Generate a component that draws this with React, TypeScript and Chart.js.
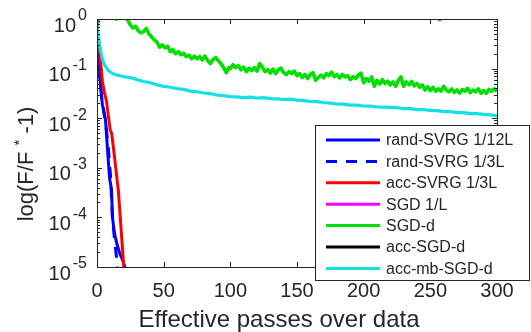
import React, { useEffect, useRef } from 'react';
import { Chart, registerables } from 'chart.js';

Chart.register(...registerables);

// ---------- axis text ----------
const xTickValues = [0, 50, 100, 150, 200, 250, 300];
const yDecadeValues = [1, 0.1, 0.01, 0.001, 0.0001, 0.00001];
const yDecadeExponents = ['0', '-1', '-2', '-3', '-4', '-5'];
const xTitle = 'Effective passes over data';

// ---------- series ----------
const svrg12X = [0, 2, 4, 6.4, 7.9, 9.4, 10.9, 11.6, 13, 14.6, 17, 19.5, 21.5];
const svrg12Y = [0.263, 0.0708, 0.0191, 0.00912, 0.00229, 0.00063, 0.000355, 0.0001, 0.00005, 0.0000316, 0.000019, 0.0000132, 0.0000089];

const svrg3X = [0, 2, 4, 6, 7.1, 8.5, 10.1, 10.8, 11.6, 13, 14.6, 15.3];
const svrg3Y = [0.263, 0.0708, 0.02, 0.01, 0.00575, 0.00251, 0.00071, 0.00028, 0.0001, 0.0000398, 0.0000158, 0.0000089];

const accSvrgX = [0, 1.9, 4.1, 5.6, 7.1, 8.5, 10, 11, 13, 16, 18, 20.2];
const accSvrgY = [0.355, 0.234, 0.0537, 0.0324, 0.0224, 0.0112, 0.00562, 0.00501, 0.00178, 0.000355, 0.000063, 0.0000089];

const sgdX = [0, 250, 255, 257, 259, 264, 300];
const sgdY = [8, 6, 2, 0.95, 2, 6, 8];

const sgdDX = [
  0, 1, 2, 4, 7, 10, 13, 14.5, 16, 19, 21,
  23, 25, 27, 29, 31, 33, 35, 37, 39, 41, 43, 45, 47, 49, 51, 53, 55, 57, 59, 61, 63, 65, 67, 69, 71, 73, 75, 77, 79, 81, 83, 85, 87, 89, 91, 93, 95, 97, 99,
  100, 102, 104, 106, 108, 110, 112, 114, 116, 118, 120, 122, 124, 126, 128, 130, 132, 134, 136, 138, 140, 142, 144, 146, 148, 150,
  152, 154, 156, 158, 160, 162, 164, 166, 168, 170, 172, 174, 176, 178, 180, 182, 184, 186, 188, 190, 192, 194, 196, 198, 200,
  202, 204, 206, 208, 210, 212, 214, 216, 218, 220, 222, 224, 226, 228, 230, 232, 234, 236, 238, 240, 242, 244, 246, 248, 250,
  252, 254, 256, 258, 260, 262, 264, 266, 268, 270, 272, 274, 276, 278, 280, 282, 284, 286, 288, 290, 292, 294, 296, 298, 300,
];
const sgdDY = [
  0.70, 0.98, 1.4, 1.7, 1.5, 1.3, 1.05, 0.99, 1.1, 1.2, 1.05,
  0.97, 0.76, 0.66, 0.71, 0.575, 0.525, 0.56, 0.645, 0.50, 0.435, 0.38, 0.34, 0.27, 0.30, 0.263, 0.28, 0.219, 0.24, 0.20, 0.219, 0.19, 0.204, 0.174, 0.186, 0.158, 0.178, 0.158, 0.174, 0.151, 0.178, 0.145, 0.126, 0.151, 0.166, 0.145, 0.126, 0.105, 0.083, 0.105,
  0.100, 0.120, 0.105, 0.115, 0.095, 0.107, 0.087, 0.102, 0.091, 0.105, 0.089, 0.126, 0.107, 0.087, 0.095, 0.081, 0.098, 0.079, 0.095, 0.102, 0.083, 0.076, 0.087, 0.079, 0.089, 0.072,
  0.079, 0.066, 0.076, 0.063, 0.076, 0.083, 0.058, 0.066, 0.074, 0.065, 0.079, 0.072, 0.085, 0.069, 0.076, 0.065, 0.076, 0.068, 0.072, 0.060, 0.069, 0.063, 0.074, 0.081, 0.052,
  0.063, 0.056, 0.068, 0.044, 0.058, 0.049, 0.060, 0.050, 0.056, 0.047, 0.054, 0.044, 0.058, 0.068, 0.044, 0.054, 0.047, 0.055, 0.045, 0.050, 0.042, 0.047, 0.037, 0.043, 0.036,
  0.042, 0.035, 0.039, 0.035, 0.044, 0.037, 0.034, 0.039, 0.033, 0.037, 0.032, 0.038, 0.035, 0.040, 0.033, 0.037, 0.034, 0.039, 0.032, 0.036, 0.032, 0.038, 0.035, 0.039, 0.035,
];

const accSgdX = [0, 300];
const accSgdY = [3, 3];

const accMbX = [0, 1, 2, 3, 4, 5, 6, 8, 10, 12, 15, 18, 21, 25, 30, 35, 40, 45, 50, 55, 60, 65, 70, 75, 80, 85, 90, 95, 100, 105, 110, 115, 120, 125, 130, 135, 140, 145, 150, 155, 160, 165, 170, 175, 180, 185, 190, 195, 200, 205, 210, 215, 220, 225, 230, 235, 240, 245, 250, 255, 260, 265, 270, 275, 280, 285, 290, 295, 300];
const accMbY = [0.71, 0.47, 0.30, 0.21, 0.158, 0.132, 0.115, 0.095, 0.085, 0.079, 0.074, 0.071, 0.068, 0.066, 0.060, 0.055, 0.052, 0.047, 0.0437, 0.0420, 0.0396, 0.0382, 0.0352, 0.0342, 0.0322, 0.0312, 0.0293, 0.0285, 0.0272, 0.0270, 0.0261, 0.0267, 0.0255, 0.0260, 0.0249, 0.0246, 0.0238, 0.0243, 0.0232, 0.0226, 0.0217, 0.0216, 0.0207, 0.0202, 0.0193, 0.0192, 0.0184, 0.0184, 0.0176, 0.0175, 0.0168, 0.0167, 0.0165, 0.0163, 0.0156, 0.0156, 0.0149, 0.0149, 0.0143, 0.0142, 0.0136, 0.0136, 0.0130, 0.0130, 0.0124, 0.0124, 0.0119, 0.0117, 0.0112];

const seriesLabels = ['rand-SVRG 1/12L', 'rand-SVRG 1/3L', 'acc-SVRG 1/3L', 'SGD 1/L', 'SGD-d', 'acc-SGD-d', 'acc-mb-SGD-d'];
const seriesColors = ['#0000ff', '#0000ff', '#ff0000', '#ff00ff', '#00e000', '#000000', '#14e1e6'];
const seriesWidths = [3, 3, 3, 3, 3.6, 3, 3.2];

const AXIS = '#262626';
const FONT = '"Liberation Sans", Arial, Helvetica, sans-serif';

function pts(xs: number[], ys: number[]) {
  return xs.map((x, i) => ({ x, y: ys[i] }));
}

const overlay = {
  id: 'overlay',
  afterDraw(chart: any) {
    const { ctx, chartArea: a, scales } = chart;
    const xs = scales.x;
    const ys = scales.y;
    ctx.save();
    ctx.strokeStyle = AXIS;
    ctx.fillStyle = AXIS;
    ctx.lineWidth = 1;
    // box
    ctx.strokeRect(a.left + 0.5, a.top + 0.5, a.right - a.left, a.bottom - a.top);
    // x ticks
    ctx.beginPath();
    xTickValues.forEach((v) => {
      const px = Math.round(xs.getPixelForValue(v)) + 0.5;
      ctx.moveTo(px, a.bottom);
      ctx.lineTo(px, a.bottom - 5);
      ctx.moveTo(px, a.top);
      ctx.lineTo(px, a.top + 5);
    });
    // y ticks major + minor
    yDecadeValues.forEach((v, i) => {
      const py = Math.round(ys.getPixelForValue(v)) + 0.5;
      ctx.moveTo(a.left, py);
      ctx.lineTo(a.left + 5, py);
      ctx.moveTo(a.right, py);
      ctx.lineTo(a.right - 5, py);
      if (i > 0) {
        for (let m = 2; m <= 9; m++) {
          const my = Math.round(ys.getPixelForValue(v * m)) + 0.5;
          ctx.moveTo(a.left, my);
          ctx.lineTo(a.left + 3, my);
          ctx.moveTo(a.right, my);
          ctx.lineTo(a.right - 3, my);
        }
      }
    });
    ctx.stroke();

    // x tick labels
    ctx.font = `20px ${FONT}`;
    ctx.textAlign = 'center';
    ctx.textBaseline = 'alphabetic';
    xTickValues.forEach((v) => {
      ctx.fillText(String(v), xs.getPixelForValue(v), a.bottom + 30);
    });

    // y tick labels 10^k
    const rightX = a.left - 10;
    yDecadeValues.forEach((v, i) => {
      const py = ys.getPixelForValue(v);
      ctx.font = `16px ${FONT}`;
      ctx.textAlign = 'right';
      ctx.textBaseline = 'middle';
      const exp = yDecadeExponents[i];
      const ew = ctx.measureText(exp).width;
      ctx.fillText(exp, rightX, py - 3);
      ctx.font = `20px ${FONT}`;
      ctx.fillText('10', rightX - ew - 2, py + 7);
    });

    // x title
    ctx.font = `24px ${FONT}`;
    ctx.textAlign = 'center';
    ctx.textBaseline = 'alphabetic';
    ctx.fillText(xTitle, 279, a.bottom + 60);

    // y title rotated
    ctx.save();
    ctx.translate(33, (a.top + a.bottom) / 2 + 21);
    ctx.rotate(-Math.PI / 2);
    const parts = [
      { t: 'log(F/F ', s: 22, dy: 0 },
      { t: '*', s: 15, dy: -9 },
      { t: ' -1)', s: 22, dy: 0 },
    ];
    let total = 0;
    parts.forEach((p) => {
      ctx.font = `${p.s}px ${FONT}`;
      total += ctx.measureText(p.t).width;
    });
    let cx = -total / 2;
    ctx.textAlign = 'left';
    ctx.textBaseline = 'alphabetic';
    parts.forEach((p) => {
      ctx.font = `${p.s}px ${FONT}`;
      ctx.fillText(p.t, cx, p.dy);
      cx += ctx.measureText(p.t).width;
    });
    ctx.restore();

    // legend
    const lx = 315.5, ly = 125.5, lw = 214, lh = 155;
    ctx.fillStyle = '#ffffff';
    ctx.fillRect(lx, ly, lw, lh);
    ctx.strokeStyle = AXIS;
    ctx.strokeRect(lx, ly, lw, lh);
    chart.data.datasets.forEach((ds: any, i: number) => {
      const ry = 140 + i * 21.4;
      ctx.save();
      ctx.strokeStyle = ds.borderColor;
      ctx.lineWidth = 3;
      ctx.setLineDash(ds.borderDash || []);
      ctx.beginPath();
      ctx.moveTo(326, ry);
      ctx.lineTo(380, ry);
      ctx.stroke();
      ctx.restore();
      ctx.fillStyle = AXIS;
      ctx.font = `16px ${FONT}`;
      ctx.textAlign = 'left';
      ctx.textBaseline = 'middle';
      ctx.fillText(ds.label, 386, ry + 1);
    });
    ctx.restore();
  },
};

export default function App() {
  const ref = useRef<HTMLCanvasElement | null>(null);
  useEffect(() => {
    if (!ref.current) return;
    const xsArr = [svrg12X, svrg3X, accSvrgX, sgdX, sgdDX, accSgdX, accMbX];
    const ysArr = [svrg12Y, svrg3Y, accSvrgY, sgdY, sgdDY, accSgdY, accMbY];
    const order = [4, 6, 3, 5, 2, 1, 0];
    const datasets = seriesLabels.map((label, i) => ({
      label,
      data: pts(xsArr[i], ysArr[i]),
      borderColor: seriesColors[i],
      backgroundColor: seriesColors[i],
      borderWidth: seriesWidths[i],
      borderDash: i === 1 ? [11, 9] : [],
      pointRadius: 0,
      fill: false,
      tension: 0,
      clip: 0,
      order: order[i],
      borderJoinStyle: 'round' as const,
    }));
    const chart = new Chart(ref.current, {
      type: 'line',
      data: { datasets },
      options: {
        responsive: false,
        animation: false,
        layout: { padding: { left: 97, top: 19, right: 34, bottom: 65 } },
        plugins: { legend: { display: false }, tooltip: { enabled: false } },
        scales: {
          x: { type: 'linear', min: 0, max: 300, display: false },
          y: { type: 'logarithmic', min: 0.00001, max: 1, display: false },
        },
      },
      plugins: [overlay],
    });
    return () => chart.destroy();
  }, []);
  return (
    <div style={{ position: 'absolute', left: 0, top: 0, width: 531, height: 332, background: '#fff' }}>
      <canvas ref={ref} width={531} height={332} />
    </div>
  );
}
